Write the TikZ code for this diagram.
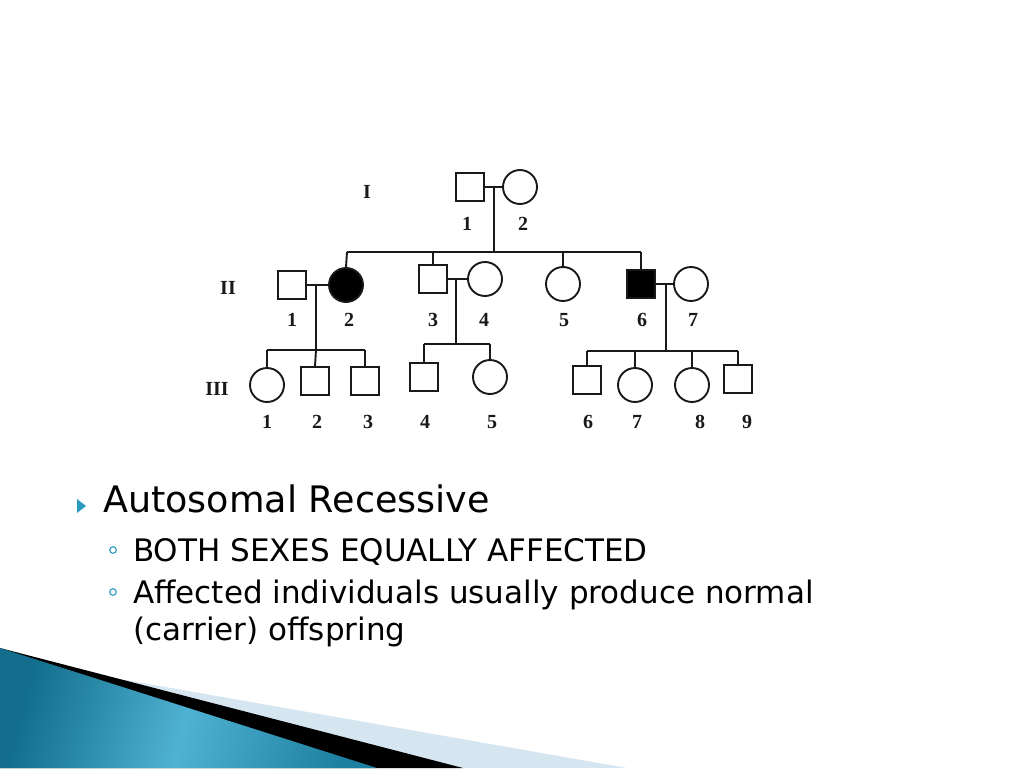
\documentclass[tikz,border=0pt]{standalone}
\usepackage{fontspec}
\newfontfamily\slidefont{DejaVu Sans}
\newfontfamily\pedfont{Liberation Serif}
\definecolor{tealdark}{RGB}{18,110,140}
\definecolor{teallight}{RGB}{80,178,210}
\definecolor{tealmid}{RGB}{30,128,160}
\definecolor{lightband}{RGB}{214,230,240}
\definecolor{bulletteal}{RGB}{42,155,190}
\definecolor{ink}{RGB}{25,25,25}
\begin{document}
\begin{tikzpicture}[x=1pt,y=-1pt,
  pline/.style={draw=ink,line width=1.9pt},
  male/.style={pline,rectangle,minimum size=28pt,inner sep=0pt,fill=white},
  female/.style={pline,circle,minimum size=34pt,inner sep=0pt,fill=white},
  aff/.style={fill=black},
  lab/.style={font=\pedfont\bfseries\fontsize{20}{20}\selectfont,inner sep=0pt,text=ink},
  gen/.style={font=\pedfont\bfseries\fontsize{20}{20}\selectfont,inner sep=0pt,text=ink},
  lvlone/.style={font=\slidefont\fontsize{36.5}{36.5}\selectfont,anchor=base west,inner sep=0pt},
  lvltwo/.style={font=\slidefont\fontsize{31}{31}\selectfont,anchor=base west,inner sep=0pt},
]
\useasboundingbox (0,0) rectangle (1024,768);
\fill[white] (0,0) rectangle (1024,768);

% bottom-left swoosh
\fill[lightband] (0,658) -- (627,768) -- (0,768) -- cycle;
\fill[black] (0,648) -- (463,768) -- (0,768) -- cycle;
\shade[left color=tealdark,right color=tealmid,middle color=teallight,shading angle=75]
  (0,648) -- (377,768) -- (0,768) -- cycle;

% ---------- generation I ----------
\node[male] (I1) at (470,187) {};
\node[female] (I2) at (520,187) {};
\coordinate (mI) at (494,187);
\coordinate (sII) at (494,252);
\draw[pline] (I1.east) -- (I2.west);
\draw[pline] (mI) -- (sII);

% ---------- generation II ----------
\node[male] (II1) at (292,285) {};
\node[female,aff] (II2) at (346,285) {};
\node[male] (II3) at (433,279) {};
\node[female] (II4) at (485,279) {};
\node[female] (II5) at (563,284) {};
\node[male,aff] (II6) at (641,284) {};
\node[female] (II7) at (691,284) {};

\coordinate (sIIa) at (347,252);
\coordinate (sIIb) at (433,252);
\coordinate (sIIc) at (563,252);
\coordinate (sIId) at (641,252);
\draw[pline] (sIIa) -- (sIId);
\draw[pline] (sIIa) -- (II2.north);
\draw[pline] (sIIb) -- (II3.north);
\draw[pline] (sIIc) -- (II5.north);
\draw[pline] (sIId) -- (II6.north);

\draw[pline] (II1.east) -- (II2.west);
\draw[pline] (II3.east) -- (II4.west);
\draw[pline] (II6.east) -- (II7.west);

% ---------- generation III ----------
\node[female] (III1) at (267,385) {};
\node[male] (III2) at (315,381) {};
\node[male] (III3) at (365,381) {};
\node[male] (III4) at (424,377) {};
\node[female] (III5) at (490,377) {};
\node[male] (III6) at (587,380) {};
\node[female] (III7) at (635,385) {};
\node[female] (III8) at (692,385) {};
\node[male] (III9) at (738,379) {};

% family of II1 x II2
\coordinate (mA) at (316,285);
\coordinate (sA) at (316,350);
\coordinate (sA1) at (267,350);
\coordinate (sA3) at (365,350);
\draw[pline] (mA) -- (sA);
\draw[pline] (sA1) -- (sA3);
\draw[pline] (sA1) -- (III1.north);
\draw[pline] (sA) -- (III2.north);
\draw[pline] (sA3) -- (III3.north);

% family of II3 x II4
\coordinate (mB) at (456,279);
\coordinate (sB) at (456,344);
\coordinate (sB1) at (424,344);
\coordinate (sB2) at (490,344);
\draw[pline] (mB) -- (sB);
\draw[pline] (sB1) -- (sB2);
\draw[pline] (sB1) -- (III4.north);
\draw[pline] (sB2) -- (III5.north);

% family of II6 x II7
\coordinate (mC) at (666,284);
\coordinate (sC) at (666,351);
\coordinate (sC1) at (587,351);
\coordinate (sC2) at (635,351);
\coordinate (sC3) at (692,351);
\coordinate (sC4) at (738,351);
\draw[pline] (mC) -- (sC);
\draw[pline] (sC1) -- (sC4);
\draw[pline] (sC1) -- (III6.north);
\draw[pline] (sC2) -- (III7.north);
\draw[pline] (sC3) -- (III8.north);
\draw[pline] (sC4) -- (III9.north);

% ---------- labels ----------
\node[gen] (gI) at (367,192) {I};
\node[gen] (gII) at (228,288) {II};
\node[gen] (gIII) at (217,389) {III};

\node[lab] (lI1) at (467,224) {1};
\node[lab] (lI2) at (523,224) {2};

\node[lab] (lII1) at (292,320) {1};
\node[lab] (lII2) at (349,320) {2};
\node[lab] (lII3) at (433,320) {3};
\node[lab] (lII4) at (484,320) {4};
\node[lab] (lII5) at (564,320) {5};
\node[lab] (lII6) at (642,320) {6};
\node[lab] (lII7) at (693,320) {7};

\node[lab] (lIII1) at (267,422) {1};
\node[lab] (lIII2) at (317,422) {2};
\node[lab] (lIII3) at (368,422) {3};
\node[lab] (lIII4) at (425,422) {4};
\node[lab] (lIII5) at (492,422) {5};
\node[lab] (lIII6) at (588,422) {6};
\node[lab] (lIII7) at (637,422) {7};
\node[lab] (lIII8) at (700,422) {8};
\node[lab] (lIII9) at (747,422) {9};

% ---------- bullet text ----------
\fill[bulletteal] (77,499) -- (86,506) -- (77,513) -- cycle;
\node[lvlone] (t1) at (103,512) {Autosomal Recessive};

\draw[bulletteal,line width=1.1pt] (113,550) circle (3.3);
\node[lvltwo] (t2) at (133,561) {BOTH SEXES EQUALLY AFFECTED};
\draw[bulletteal,line width=1.1pt] (113,592) circle (3.3);
\node[lvltwo] (t3) at (133,603) {Affected individuals usually produce normal};
\node[lvltwo] (t4) at (133,640) {(carrier) offspring};
\end{tikzpicture}
\end{document}
